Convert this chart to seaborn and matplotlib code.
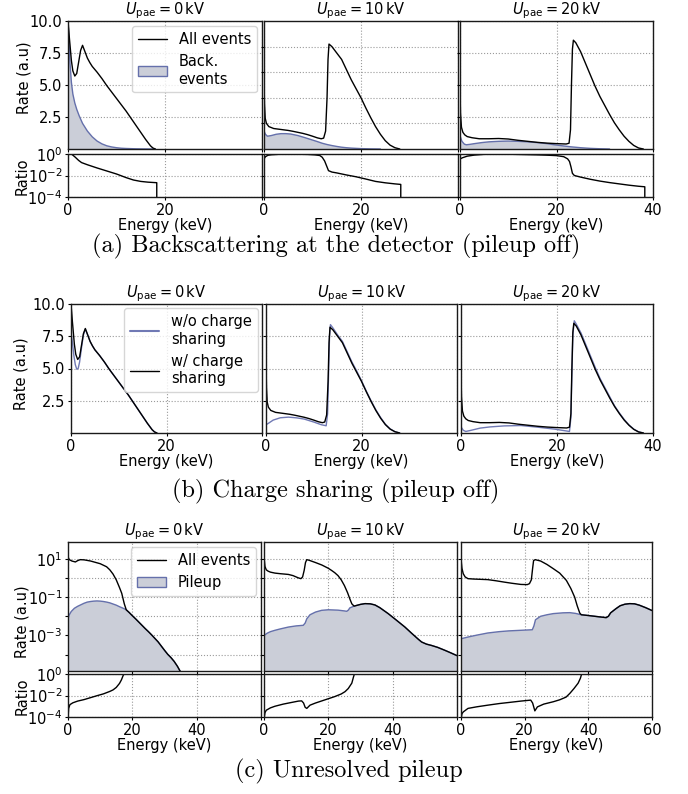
import numpy as np
import matplotlib
matplotlib.use("Agg")
import matplotlib.pyplot as plt
import matplotlib.ticker as mticker
import seaborn as sns
from matplotlib.lines import Line2D
from matplotlib.patches import Patch

# ------------------------------------------------------------------
# Spectra for the three post-acceleration voltages (energies in keV)
# ------------------------------------------------------------------
voltages = [0, 10, 20]

# All detected events (linear rate, a.u.), pileup off
all0_e = [0, 0.3, 0.7, 1.0, 1.4, 1.8, 2.2, 2.6, 3.0, 3.5, 4.0, 4.5, 5, 6, 7, 8, 9, 10,
          11, 12, 13, 14, 15, 16, 17, 17.5, 18]
all0_r = [10, 8.6, 6.9, 6.1, 5.7, 5.9, 6.8, 7.7, 8.1, 7.6, 7.1, 6.75, 6.45, 6.0, 5.5, 4.95,
          4.45, 3.95, 3.45, 2.95, 2.4, 1.85, 1.3, 0.75, 0.25, 0.08, 0]
all10_e = [0, 0.1, 0.25, 0.5, 1, 2, 3, 4, 5, 6, 7, 8, 9, 10, 11, 11.8, 12.3, 12.7, 13.0,
           13.2, 13.4, 14, 15, 16, 17, 18, 19, 20, 21, 22, 23, 24, 25, 26, 27, 28]
all10_r = [5.5, 3.5, 2.4, 2.0, 1.75, 1.6, 1.55, 1.5, 1.45, 1.38, 1.3, 1.22, 1.12, 1.0, 0.87,
           0.8, 0.85, 1.4, 4.0, 7.0, 8.2, 8.0, 7.5, 7.0, 6.2, 5.4, 4.7, 4.0, 3.2, 2.45,
           1.75, 1.15, 0.65, 0.3, 0.1, 0]
all20_e = [0, 0.1, 0.3, 0.6, 1.0, 1.5, 2.5, 4, 6, 8, 10, 12, 14, 16, 18, 20, 22, 22.6,
           22.9, 23.1, 23.3, 23.5, 24, 25, 26, 27, 28, 29, 30, 31, 32, 33, 34, 35, 36, 37, 38]
all20_r = [4.7, 2.8, 1.7, 1.3, 1.1, 0.97, 0.88, 0.8, 0.8, 0.82, 0.78, 0.68, 0.6, 0.52, 0.46,
           0.42, 0.39, 0.45, 1.5, 5.0, 7.8, 8.5, 8.3, 7.6, 6.7, 5.8, 4.9, 4.1, 3.4, 2.7,
           2.05, 1.5, 1.0, 0.6, 0.28, 0.08, 0]

# Backscattered events (linear rate, a.u.)
back0_e = [0, 0.2, 0.4, 0.7, 1.0, 1.4, 1.8, 2.3, 3.0, 4.0, 5.0, 6.0, 7.0, 8.0, 9.0, 10, 11,
           12, 14, 16, 18]
back0_r = [10, 8.5, 6.8, 5.2, 4.3, 3.6, 3.1, 2.6, 2.0, 1.4, 0.95, 0.62, 0.4, 0.25, 0.16,
           0.1, 0.06, 0.04, 0.015, 0.005, 0]
back10_e = [0, 0.3, 0.7, 1.5, 2.5, 3.5, 4.5, 5.5, 7, 8.5, 10, 11, 12, 13, 14, 15, 16, 17,
            18, 19, 20, 22, 24]
back10_r = [1.4, 1.15, 1.0, 1.05, 1.15, 1.2, 1.2, 1.17, 1.05, 0.88, 0.7, 0.58, 0.45, 0.35,
            0.27, 0.2, 0.14, 0.1, 0.07, 0.05, 0.03, 0.01, 0]
back20_e = [0, 0.4, 0.9, 1.3, 2, 3, 4.5, 6, 8, 10, 12, 14, 16, 18, 19.5, 21, 23, 25, 27,
            29, 31]
back20_r = [1.03, 0.6, 0.38, 0.33, 0.36, 0.42, 0.5, 0.56, 0.6, 0.62, 0.6, 0.56, 0.5, 0.42,
            0.33, 0.26, 0.17, 0.1, 0.05, 0.02, 0]

# Backscattered / all ratio, given as log10 of the ratio
rback0_e = [0, 0.8, 1.5, 2.2, 2.8, 4, 6, 8, 10, 12, 13.5, 15, 16.5, 18.3, 18.3]
rback0_log = [0, -0.03, -0.3, -0.6, -0.8, -1.0, -1.3, -1.58, -1.86, -2.2, -2.42, -2.55,
              -2.62, -2.67, -5]
rback10_e = [0, 0.3, 0.8, 1.5, 3, 5, 7, 9, 10.5, 11.5, 12.0, 12.5, 12.9, 13.3, 14, 15, 17,
             19, 21, 23, 25, 27, 28.2, 28.2]
rback10_log = [-0.45, -0.25, -0.12, -0.07, -0.03, -0.02, -0.02, -0.04, -0.08, -0.14, -0.3,
               -0.65, -1.1, -1.55, -1.68, -1.76, -1.95, -2.12, -2.33, -2.55, -2.68, -2.78,
               -2.83, -5]
rback20_e = [0, 0.5, 1.5, 3, 5, 7, 10, 13, 16, 18, 20, 21.5, 22.3, 22.7, 23.0, 23.3, 23.7,
             25, 27, 29, 31, 33, 35, 37, 38.3, 38.3]
rback20_log = [-0.47, -0.35, -0.2, -0.1, -0.03, -0.01, -0.02, -0.05, -0.08, -0.11, -0.15,
               -0.25, -0.45, -0.7, -1.2, -1.8, -2.0, -2.15, -2.35, -2.52, -2.66, -2.78,
               -2.9, -3.0, -3.05, -5]

# Spectra without charge sharing (linear rate, a.u.)
nocs0_e = [0, 0.3, 0.6, 0.9, 1.2, 1.5, 1.8, 2.2, 2.6, 3.0, 3.5, 4.0, 4.5, 5, 6, 7, 8, 9,
           10, 11, 12, 13, 14, 15, 16, 17, 17.5, 18]
nocs0_r = [7.8, 7.0, 6.0, 5.3, 4.95, 5.0, 5.5, 6.6, 7.6, 8.05, 7.6, 7.1, 6.75, 6.45, 6.0,
           5.5, 4.95, 4.45, 3.95, 3.45, 2.95, 2.4, 1.85, 1.3, 0.75, 0.25, 0.08, 0]
nocs10_e = [0, 0.5, 1.5, 3, 4.7, 6.5, 8, 10, 11.6, 12.6, 12.9, 13.1, 13.3, 13.5, 14, 15,
            16, 17, 18, 19, 20, 21, 22, 23, 24, 25, 26, 27, 28]
nocs10_r = [0.64, 0.75, 1.0, 1.18, 1.23, 1.17, 1.08, 0.85, 0.64, 0.56, 1.5, 4.5, 7.5, 8.4,
            8.15, 7.6, 7.1, 6.3, 5.5, 4.8, 4.05, 3.25, 2.5, 1.8, 1.2, 0.68, 0.32, 0.1, 0]
nocs20_e = [0, 0.5, 1.0, 2, 4, 6, 9, 12.5, 16, 19.5, 22.6, 22.9, 23.1, 23.3, 23.6, 24, 25,
            26, 27, 28, 29, 30, 31, 32, 33, 34, 35, 36, 37, 38]
nocs20_r = [0.47, 0.2, 0.12, 0.2, 0.38, 0.47, 0.55, 0.58, 0.45, 0.3, 0.12, 1.2, 4.5, 7.6,
            8.7, 8.45, 7.75, 6.85, 5.95, 5.05, 4.2, 3.5, 2.8, 2.1, 1.55, 1.05, 0.62, 0.3,
            0.09, 0]

# Pileup on: all events and unresolved pileup, log10 of rate (a.u.)
pall0_e = [0, 0.4, 1.2, 2.3, 3.0, 3.8, 5, 7, 10, 12, 13, 14, 15, 16, 16.7, 17.5, 18.1, 19,
           20, 21, 22, 23, 24, 25, 26, 27, 28, 29, 30, 31, 32, 33, 34, 35, 35.5]
pall0_log = [1.1, 0.95, 0.88, 0.83, 0.9, 0.95, 0.94, 0.88, 0.74, 0.58, 0.42, 0.2, -0.1,
             -0.5, -0.8, -1.35, -1.66, -1.8, -1.97, -2.13, -2.3, -2.47, -2.64, -2.8, -2.97,
             -3.15, -3.33, -3.55, -3.77, -3.98, -4.15, -4.35, -4.6, -4.9, -5.2]
pile0_e = [0, 0.3, 1, 2, 3, 4, 5, 6, 7, 8, 9, 10, 11, 12, 13, 14, 15, 16, 17, 18, 19, 20,
           21, 22, 23, 24, 25, 26, 27, 28, 29, 30, 31, 32, 33, 34, 35, 35.5]
pile0_log = [-2.15, -1.95, -1.75, -1.58, -1.48, -1.4, -1.32, -1.26, -1.23, -1.21, -1.2,
             -1.21, -1.23, -1.26, -1.3, -1.36, -1.42, -1.5, -1.57, -1.65, -1.8, -1.97,
             -2.13, -2.3, -2.47, -2.64, -2.8, -2.97, -3.15, -3.33, -3.55, -3.77, -3.98,
             -4.15, -4.35, -4.6, -4.9, -5.2]
pall10_e = [0, 0.3, 0.7, 1.3, 2, 3.4, 5, 7.6, 9, 10.7, 11.5, 12.0, 12.5, 12.9, 13.3, 14,
            16, 18, 20, 21, 22, 23, 24, 25, 26, 26.7, 27.3, 28, 30, 31.4, 33, 34.5, 36,
            38.6, 41, 43.8, 46, 48, 49, 50.5, 52.1, 54, 56.2, 58, 60]
pall10_log = [1.09, 0.6, 0.42, 0.35, 0.3, 0.25, 0.22, 0.18, 0.12, 0.0, -0.04, 0.05, 0.4,
              0.8, 0.95, 0.92, 0.8, 0.67, 0.5, 0.39, 0.27, 0.12, -0.1, -0.4, -0.78, -1.1,
              -1.35, -1.47, -1.38, -1.34, -1.35, -1.41, -1.55, -1.86, -2.18, -2.56, -2.9,
              -3.2, -3.34, -3.45, -3.52, -3.62, -3.77, -3.9, -4.05]
pile10_e = [0, 1, 2, 3.4, 5, 7.6, 10, 12.2, 12.8, 13.3, 14.3, 16, 17.9, 20, 23, 25, 25.7,
            26.2, 26.7, 28, 30, 31.4, 33, 34.5, 36, 38.6, 41, 43.8, 46, 48, 49, 50.5,
            52.1, 54, 56.2, 58, 60]
pile10_log = [-3.0, -2.88, -2.8, -2.73, -2.66, -2.56, -2.5, -2.47, -2.35, -2.13, -1.92,
              -1.78, -1.69, -1.66, -1.68, -1.72, -1.74, -1.68, -1.56, -1.47, -1.38, -1.34,
              -1.35, -1.41, -1.55, -1.86, -2.18, -2.56, -2.9, -3.2, -3.34, -3.45, -3.52,
              -3.62, -3.77, -3.9, -4.05]
pall20_e = [0, 0.3, 0.7, 1.3, 2.2, 4, 8.4, 11, 13.6, 16, 18.8, 20.8, 21.5, 22.1, 22.5,
            22.8, 23.3, 25, 27, 29, 31, 33.1, 34.5, 35.7, 36.5, 37.3, 37.8, 40, 42, 44,
            45.6, 46.3, 47, 48.7, 50, 51.5, 53, 54.5, 56, 58, 60]
pall20_log = [1.0, 0.5, 0.22, 0.05, -0.04, -0.06, -0.09, -0.15, -0.22, -0.28, -0.34,
              -0.35, -0.3, -0.1, 0.5, 0.9, 0.95, 0.88, 0.7, 0.48, 0.25, -0.13, -0.55,
              -1.0, -1.45, -1.83, -1.92, -1.96, -2.0, -2.04, -2.07, -2.0, -1.82, -1.6,
              -1.45, -1.37, -1.34, -1.35, -1.42, -1.55, -1.7]
pile20_e = [0, 2.2, 5, 8.4, 12, 15, 18.8, 22.4, 22.9, 23.4, 25, 27, 29, 32, 34.2, 36, 37.8,
            40, 42, 44, 45.6, 46.3, 47, 48.7, 50, 51.5, 53, 54.5, 56, 58, 60]
pile20_log = [-3.17, -3.08, -2.98, -2.87, -2.8, -2.76, -2.73, -2.7, -2.5, -2.18, -2.0,
              -1.92, -1.86, -1.82, -1.81, -1.85, -1.92, -1.96, -2.0, -2.04, -2.07, -2.0,
              -1.82, -1.6, -1.45, -1.37, -1.34, -1.35, -1.42, -1.55, -1.7]

# Pileup / all ratio, log10
rpile0_e = [0, 0.2, 0.6, 1.5, 3, 5, 7, 9, 11, 13, 14, 15, 16, 16.6, 17.2, 17.5, 60]
rpile0_log = [-4.2, -3.2, -2.85, -2.68, -2.52, -2.38, -2.2, -2.02, -1.85, -1.62, -1.48,
              -1.25, -0.88, -0.55, -0.1, 0, 0]
rpile10_e = [0, 0.3, 0.7, 2, 3.4, 6, 8, 10.7, 11.7, 12.3, 12.8, 13.3, 14.3, 16, 18, 20, 22,
             24, 25.2, 26.2, 27.3, 27.8, 28.1, 60]
rpile10_log = [-4.2, -3.6, -3.37, -3.15, -3.0, -2.8, -2.68, -2.52, -2.5, -2.7, -3.1, -3.2,
               -2.9, -2.7, -2.5, -2.3, -2.1, -1.86, -1.64, -1.35, -0.85, -0.3, 0, 0]
rpile20_e = [0, 0.3, 0.7, 2.2, 5, 8.4, 12, 15, 18.8, 21.9, 22.5, 23.2, 24, 26, 29, 31, 33,
             34.2, 35.5, 36.8, 37.5, 37.9, 60]
rpile20_log = [-4.2, -3.7, -3.53, -3.2, -3.05, -2.9, -2.75, -2.65, -2.52, -2.43, -2.7,
               -3.43, -3.06, -2.8, -2.58, -2.4, -2.15, -1.8, -1.35, -0.85, -0.4, 0, 0]

captions = ["(a) Backscattering at the detector (pileup off)",
            "(b) Charge sharing (pileup off)",
            "(c) Unresolved pileup"]

# ------------------------------------------------------------------
# Style
# ------------------------------------------------------------------
sns.set_theme(style="ticks")
FS = 10.5
plt.rcParams.update({
    "font.family": ["DejaVu Sans"],
    "font.size": FS,
    "axes.labelsize": FS,
    "axes.titlesize": FS,
    "xtick.labelsize": FS,
    "ytick.labelsize": FS,
    "legend.fontsize": FS,
    "axes.edgecolor": "#1a1a1a",
    "axes.linewidth": 1.0,
    "axes.labelcolor": "black",
    "text.color": "black",
    "xtick.color": "black",
    "ytick.color": "black",
    "xtick.major.size": 2.5,
    "ytick.major.size": 2.5,
    "xtick.major.width": 0.8,
    "ytick.major.width": 0.8,
    "xtick.major.pad": 1.5,
    "ytick.major.pad": 1.5,
    "grid.linestyle": ":",
    "grid.color": "#9a9a9a",
    "grid.linewidth": 0.8,
    "mathtext.fontset": "dejavusans",
})

FILL = "#cbced8"
EDGE = "#6570ab"
BLUE = "#7079b4"

W, H = 688, 794
fig = plt.figure(figsize=(W / 100, H / 100), dpi=100)


def rect(x0, x1, y0, y1):
    return [x0 / W, 1 - y1 / H, (x1 - x0) / W, (y1 - y0) / H]


def line(ax, e, v, color, lw=1.0):
    sns.lineplot(x=list(e), y=list(v), ax=ax, color=color, lw=lw,
                 estimator=None, sort=False, errorbar=None)


def title_for(v):
    return r"$U_{\mathrm{pae}} = %d\,\mathrm{kV}$" % v


def xaxis(ax, xmax, ticks, labelled, last):
    ax.set_xlim(0, xmax)
    ax.set_xticks(ticks)
    if labelled:
        labs = ["%d" % t for t in ticks]
        if not last:
            labs[-1] = ""
        ax.set_xticklabels(labs)
        ax.set_xlabel("Energy (keV)", labelpad=0.5)
    else:
        ax.set_xticklabels([])
        ax.set_xlabel("")


def ratio_axis(ax, first):
    ax.set_yscale("log")
    ax.set_ylim(1e-4, 1)
    ax.set_yticks([1e-4, 1e-2, 1])
    ax.yaxis.set_minor_locator(mticker.NullLocator())
    if first:
        ax.set_yticklabels([r"$\mathdefault{10^{-4}}$", r"$\mathdefault{10^{-2}}$",
                            r"$\mathdefault{10^{0}}$"])
    else:
        ax.set_yticklabels([])
    ax.grid(True)


def linear_main(ax, first, ticks):
    ax.set_ylim(0, 10)
    ax.set_yticks(ticks)
    if first:
        ax.set_yticklabels(["%.1f" % t for t in ticks])
    else:
        ax.set_yticklabels([])
    ax.grid(True)


# ------------------------------------------------------------------
# (a) Backscattering
# ------------------------------------------------------------------
cols_a = [(68, 262), (264, 458), (460, 653)]
all_sets = [(all0_e, all0_r), (all10_e, all10_r), (all20_e, all20_r)]
back_sets = [(back0_e, back0_r), (back10_e, back10_r), (back20_e, back20_r)]
rback_sets = [(rback0_e, rback0_log), (rback10_e, rback10_log), (rback20_e, rback20_log)]
yt_a = [[2.5, 5.0, 7.5, 10.0], [2, 4, 6, 8], [2.5, 5.0, 7.5, 10.0]]

for i, (x0, x1) in enumerate(cols_a):
    ax = fig.add_axes(rect(x0, x1, 21, 149))
    be, br = back_sets[i]
    ax.fill_between(be, 0, br, facecolor=FILL, edgecolor="none")
    line(ax, be, br, EDGE)
    ae, ar = all_sets[i]
    line(ax, ae, ar, "black")
    linear_main(ax, i == 0, yt_a[i])
    xaxis(ax, 40, [0, 20, 40], False, i == 2)
    ax.set_title(title_for(voltages[i]), pad=2)
    if i == 0:
        ax.set_ylabel("Rate (a.u)")
        ax.yaxis.set_label_coords(-0.19, 0.56)
        ax.legend(handles=[Line2D([], [], color="black", lw=1),
                           Patch(facecolor=FILL, edgecolor=EDGE)],
                  labels=["All events", "Back.\nevents"], loc="upper right",
                  borderaxespad=0.35)
    else:
        ax.set_ylabel("")

    axr = fig.add_axes(rect(x0, x1, 154, 197))
    re_, rl = rback_sets[i]
    axr.set_yscale("log")
    line(axr, re_, 10.0 ** np.asarray(rl), "black")
    ratio_axis(axr, i == 0)
    xaxis(axr, 40, [0, 20, 40], True, i == 2)
    if i == 0:
        axr.set_ylabel("Ratio")
        axr.yaxis.set_label_coords(-0.196, 0.49)
    else:
        axr.set_ylabel("")

# ------------------------------------------------------------------
# (b) Charge sharing
# ------------------------------------------------------------------
cols_b = [(71, 262), (266, 457), (461, 653)]
nocs_sets = [(nocs0_e, nocs0_r), (nocs10_e, nocs10_r), (nocs20_e, nocs20_r)]
for i, (x0, x1) in enumerate(cols_b):
    ax = fig.add_axes(rect(x0, x1, 304, 433))
    ne, nr = nocs_sets[i]
    line(ax, ne, nr, BLUE)
    ae, ar = all_sets[i]
    line(ax, ae, ar, "black")
    linear_main(ax, i == 0, [2.5, 5.0, 7.5, 10.0])
    xaxis(ax, 40, [0, 20, 40], True, i == 2)
    ax.set_title(title_for(voltages[i]), pad=2)
    if i == 0:
        ax.set_ylabel("Rate (a.u)")
        ax.yaxis.set_label_coords(-0.222, 0.46)
        ax.legend(handles=[Line2D([], [], color=BLUE, lw=1.5),
                           Line2D([], [], color="black", lw=1)],
                  labels=["w/o charge\nsharing", "w/ charge\nsharing"],
                  loc="upper right", borderaxespad=0.3)
    else:
        ax.set_ylabel("")

# ------------------------------------------------------------------
# (c) Unresolved pileup
# ------------------------------------------------------------------
cols_c = [(68, 261), (264, 457), (461, 652)]
pall_sets = [(pall0_e, pall0_log), (pall10_e, pall10_log), (pall20_e, pall20_log)]
pile_sets = [(pile0_e, pile0_log), (pile10_e, pile10_log), (pile20_e, pile20_log)]
rpile_sets = [(rpile0_e, rpile0_log), (rpile10_e, rpile10_log), (rpile20_e, rpile20_log)]
decades = list(range(-4, 2))
for i, (x0, x1) in enumerate(cols_c):
    ax = fig.add_axes(rect(x0, x1, 542, 671))
    ax.set_yscale("log")
    pe, pl = pile_sets[i]
    prate = 10.0 ** np.asarray(pl)
    ax.fill_between(pe, 1e-7, prate, facecolor=FILL, edgecolor="none")
    line(ax, pe, prate, EDGE)
    ae, al = pall_sets[i]
    line(ax, ae, 10.0 ** np.asarray(al), "black")
    ax.set_ylim(10 ** -4.85, 10 ** 1.87)
    ax.set_yticks([10.0 ** k for k in decades])
    ax.yaxis.set_minor_locator(mticker.NullLocator())
    if i == 0:
        ax.set_yticklabels([r"$\mathdefault{10^{%d}}$" % k if k in (1, -1, -3) else ""
                            for k in decades])
    else:
        ax.set_yticklabels([])
    ax.grid(True)
    xaxis(ax, 60, [0, 20, 40, 60], False, i == 2)
    ax.set_title(title_for(voltages[i]), pad=2)
    if i == 0:
        ax.set_ylabel("Rate (a.u)")
        ax.yaxis.set_label_coords(-0.197, 0.38)
        ax.legend(handles=[Line2D([], [], color="black", lw=1),
                           Patch(facecolor=FILL, edgecolor=EDGE)],
                  labels=["All events", "Pileup"], loc="upper right",
                  borderaxespad=0.35)
    else:
        ax.set_ylabel("")

    axr = fig.add_axes(rect(x0, x1, 674, 717))
    axr.set_yscale("log")
    re_, rl = rpile_sets[i]
    line(axr, re_, 10.0 ** np.asarray(rl), "black")
    ratio_axis(axr, i == 0)
    xaxis(axr, 60, [0, 20, 40, 60], True, i == 2)
    if i == 0:
        axr.set_ylabel("Ratio")
        axr.yaxis.set_label_coords(-0.197, 0.49)
    else:
        axr.set_ylabel("")

# Sub-figure captions
cap_pos = [(336.5, 246), (336, 491), (349, 771)]
for (cx, cy), text in zip(cap_pos, captions):
    fig.text(cx / W, 1 - cy / H, text, ha="center", va="center",
             family="cmr10", fontsize=17.5)

fig.savefig("out.png", dpi=100)
